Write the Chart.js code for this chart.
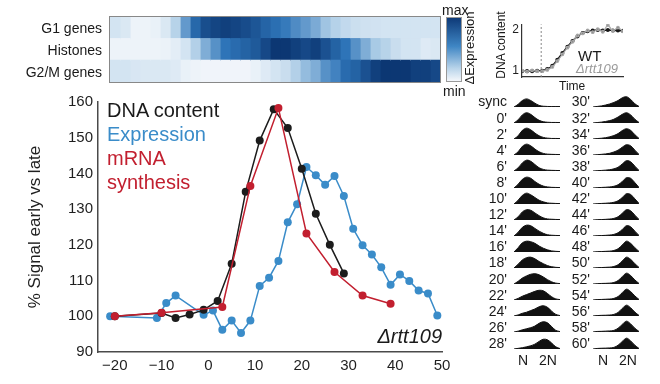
<!DOCTYPE html>
<html>
<head>
<meta charset="utf-8">
<script src="https://cdn.jsdelivr.net/npm/chart.js@4/dist/chart.umd.min.js"></script>
<style>
  html, body { margin: 0; padding: 0; background: #fff; }
  body { width: 660px; height: 384px; position: relative; overflow: hidden;
         font-family: "Liberation Sans", Arial, sans-serif; color: #1a1a1a; }
  canvas, .txt, .box { position: absolute; }
  .txt { white-space: nowrap; }
  .rowlab { font-size: 14px; line-height: 14px; text-align: right; width: 80px; }
  .histlab { font-size: 14px; line-height: 14px; text-align: right; width: 40px; }
</style>
</head>
<body>
<!-- heatmap -->
<canvas id="heatChart" width="330" height="65" style="left:110px;top:17px;"></canvas>
<div class="box" style="left:109px;top:16px;width:330px;height:65px;border:1px solid #888;"></div>
<div class="txt rowlab" style="left:22px;top:21px;">G1 genes</div>
<div class="txt rowlab" style="left:22px;top:43px;">Histones</div>
<div class="txt rowlab" style="left:22px;top:65px;">G2/M genes</div>
<div class="box" style="left:446px;top:17px;width:14px;height:63px;border:1px solid #999;background:linear-gradient(to bottom,#0e3a78,#3f86c4 45%,#b9d4ea 80%,#f4f7fb);"></div>
<div class="txt" style="left:442px;top:2px;font-size:14px;">max</div>
<div class="txt" style="left:443px;top:83px;font-size:14px;">min</div>
<div class="txt" style="left:469px;top:48px;font-size:13px;transform:translate(-50%,-50%) rotate(-90deg);">&Delta;Expression</div>

<!-- main chart -->
<canvas id="mainChart" width="460" height="296" style="left:0;top:88px;"></canvas>
<div class="txt" style="left:107px;top:98px;font-size:20px;line-height:24px;">
  <div style="color:#1a1a1a">DNA content</div>
  <div style="color:#3a8cc9">Expression</div>
  <div style="color:#c21f2f">mRNA</div>
  <div style="color:#c21f2f">synthesis</div>
</div>
<div class="txt" style="left:362px;top:325px;width:80px;text-align:right;font-size:20px;font-style:italic;">&Delta;rtt109</div>

<!-- inset -->
<canvas id="insetChart" width="130" height="80" style="left:500px;top:14px;"></canvas>
<div class="txt" style="left:501px;top:45px;font-size:12px;transform:translate(-50%,-50%) rotate(-90deg);">DNA content</div>
<div class="txt" style="left:559px;top:79px;font-size:12px;">Time</div>
<div class="txt" style="left:578px;top:47px;font-size:15px;">WT</div>
<div class="txt" style="left:576px;top:61px;font-size:13px;font-style:italic;color:#9a9a9a;">&Delta;rtt109</div>

<div id="hists"></div>
<div class="txt" style="left:518px;top:352px;font-size:14px;">N</div>
<div class="txt" style="left:539px;top:352px;font-size:14px;">2N</div>
<div class="txt" style="left:598px;top:352px;font-size:14px;">N</div>
<div class="txt" style="left:619px;top:352px;font-size:14px;">2N</div>

<script>
// ---- main panel: % signal early vs late ----
const xTickValues = [-20, -10, 0, 10, 20, 30, 40, 50];
const yTickValues = [90, 100, 110, 120, 130, 140, 150, 160];

const dnaTime   = [-20, -10, -7, -4, -1, 2, 5, 8, 11, 14, 17, 20, 23, 26, 29];
const dnaSignal = [100, 100.9, 99.5, 100.5, 101.8, 104.3, 114.7, 134.9, 149.2, 158, 152.7, 141.3, 128.7, 120, 112];

const exprTime   = [-21, -11, -9, -7, -1, 1, 3, 5, 7, 9, 11, 13, 15, 17, 19, 21, 23, 25, 27, 29, 31, 33, 35, 37, 39, 41, 43, 45, 47, 49];
const exprSignal = [100, 99.5, 103.7, 105.8, 100.4, 101.6, 96.2, 98.8, 95.3, 98.8, 108.5, 110.8, 115.5, 126.3, 131.4,
                    141.8, 139.5, 136.8, 139.3, 133.7, 124.5, 119.9, 117.3, 113.7, 108.8, 111.7, 109.9, 107.2, 106.4, 100.2];

const mrnaTime   = [-20, -10, 3, 9, 15, 21, 27, 33, 39];
const mrnaSignal = [100, 101, 102.6, 136.5, 158.3, 123.2, 112.4, 105.8, 103.5];

// ---- heatmap rows (relative expression, 0 = min, 1 = max) ----
const heatRows = ['G1 genes', 'Histones', 'G2/M genes'];
const g1Row = [0.15, 0.12, 0.03, 0.03, 0.05, 0.12, 0.28, 0.52, 0.72, 0.87, 0.92, 0.95, 0.92, 0.88, 0.82, 0.74, 0.68,
               0.63, 0.57, 0.52, 0.46, 0.37, 0.29, 0.23, 0.19, 0.17, 0.16, 0.15, 0.15, 0.15, 0.15, 0.15, 0.15];
const histoneRow = [0.03, 0.03, 0.03, 0.03, 0.03, 0.04, 0.08, 0.15, 0.3, 0.45, 0.55, 0.65, 0.7, 0.75, 0.8, 0.9, 1.0,
                    1.0, 0.95, 0.9, 0.95, 0.85, 0.75, 0.65, 0.55, 0.45, 0.35, 0.28, 0.2, 0.15, 0.15, 0.1, 0.12];
const g2mRow = [0.15, 0.15, 0.13, 0.12, 0.12, 0.12, 0.1, 0.05, 0.03, 0.02, 0.02, 0.02, 0.02, 0.02, 0.05, 0.1, 0.15,
                0.2, 0.3, 0.4, 0.45, 0.55, 0.6, 0.7, 0.75, 0.85, 0.95, 1.0, 1.0, 1.0, 0.95, 0.95, 0.9];

// ---- inset: DNA content over time ----
const insetTime   = [0, 5, 10, 15, 20, 25, 30, 35, 40, 45, 50, 55, 60, 65, 70, 75, 80, 85, 90, 95, 100];
const wtContent   = [1.0, 1.0, 1.0, 1.01, 1.01, 1.05, 1.13, 1.27, 1.43, 1.58, 1.72, 1.83, 1.91, 1.95, 1.97, 1.98, 1.97, 1.98, 1.97, 1.97, 1.96];
const rttContent  = [1.01, 0.99, 1.02, 1.0, 1.0, 1.03, 1.1, 1.24, 1.4, 1.56, 1.7, 1.85, 1.9, 1.97, 1.93, 2.0, 1.94, 2.1, 1.96, 2.04, 1.95];
const syncMark = 19;
const insetTicks = [1, 2];

// ---- FACS histograms ----
const histLabelsLeft  = ['sync', "0'", "2'", "4'", "6'", "8'", "10'", "12'", "14'", "16'", "18'", "20'", "22'", "24'", "26'", "28'"];
const histLabelsRight = ["30'", "32'", "34'", "36'", "38'", "40'", "42'", "44'", "46'", "48'", "50'", "52'", "54'", "56'", "58'", "60'"];
const histLeft = [
  [0, 0.25, 0.6, 0.75, 0.6, 0.35, 0.15, 0.07, 0.05, 0.04, 0.04, 0.04],
  [0, 0.3, 0.75, 0.95, 0.8, 0.5, 0.25, 0.12, 0.07, 0.05, 0.05, 0.04],
  [0, 0.3, 0.8, 1.0, 0.85, 0.55, 0.3, 0.15, 0.08, 0.05, 0.05, 0.04],
  [0, 0.3, 0.8, 1.0, 0.85, 0.55, 0.3, 0.15, 0.08, 0.06, 0.05, 0.04],
  [0, 0.3, 0.75, 1.0, 0.9, 0.6, 0.3, 0.15, 0.08, 0.06, 0.05, 0.04],
  [0, 0.35, 0.8, 1.0, 0.9, 0.6, 0.35, 0.18, 0.1, 0.06, 0.05, 0.04],
  [0, 0.35, 0.8, 1.0, 0.85, 0.6, 0.35, 0.2, 0.1, 0.07, 0.05, 0.04],
  [0, 0.3, 0.75, 0.95, 0.9, 0.65, 0.4, 0.2, 0.1, 0.07, 0.05, 0.04],
  [0, 0.35, 0.8, 1.0, 0.95, 0.7, 0.45, 0.25, 0.12, 0.07, 0.05, 0.04],
  [0, 0.4, 0.85, 1.0, 0.95, 0.8, 0.55, 0.35, 0.2, 0.1, 0.06, 0.04],
  [0, 0.35, 0.75, 0.95, 1.0, 0.85, 0.6, 0.4, 0.22, 0.12, 0.06, 0.04],
  [0, 0.25, 0.55, 0.75, 0.9, 0.95, 0.85, 0.65, 0.4, 0.2, 0.08, 0.04],
  [0, 0.15, 0.35, 0.5, 0.65, 0.8, 0.9, 0.85, 0.6, 0.3, 0.1, 0.04],
  [0, 0.1, 0.25, 0.35, 0.5, 0.65, 0.85, 0.95, 0.8, 0.45, 0.15, 0.04],
  [0, 0.08, 0.2, 0.3, 0.4, 0.55, 0.8, 0.95, 0.85, 0.5, 0.15, 0.04],
  [0, 0.06, 0.12, 0.2, 0.3, 0.45, 0.7, 0.9, 0.85, 0.55, 0.2, 0.04]
];
const histRight = [
  [0, 0.05, 0.1, 0.18, 0.28, 0.42, 0.6, 0.85, 0.95, 0.7, 0.3, 0.05],
  [0, 0.04, 0.08, 0.14, 0.22, 0.35, 0.55, 0.8, 0.95, 0.75, 0.35, 0.05],
  [0, 0.04, 0.07, 0.12, 0.2, 0.32, 0.5, 0.78, 0.95, 0.8, 0.4, 0.05],
  [0, 0.03, 0.06, 0.1, 0.16, 0.28, 0.45, 0.72, 0.95, 0.85, 0.45, 0.05],
  [0, 0.03, 0.05, 0.08, 0.12, 0.2, 0.35, 0.65, 0.95, 0.85, 0.45, 0.05],
  [0, 0.03, 0.05, 0.07, 0.1, 0.16, 0.3, 0.6, 0.95, 0.9, 0.5, 0.05],
  [0, 0.03, 0.05, 0.07, 0.1, 0.16, 0.3, 0.6, 0.95, 0.88, 0.48, 0.05],
  [0, 0.03, 0.04, 0.06, 0.09, 0.15, 0.3, 0.62, 0.95, 0.85, 0.45, 0.05],
  [0, 0.03, 0.04, 0.06, 0.09, 0.15, 0.3, 0.6, 0.95, 0.85, 0.45, 0.05],
  [0, 0.03, 0.04, 0.06, 0.08, 0.14, 0.3, 0.65, 1.0, 0.8, 0.4, 0.05],
  [0, 0.03, 0.04, 0.06, 0.08, 0.14, 0.3, 0.65, 1.0, 0.8, 0.4, 0.05],
  [0, 0.03, 0.05, 0.06, 0.08, 0.14, 0.32, 0.68, 1.0, 0.78, 0.38, 0.05],
  [0, 0.04, 0.05, 0.07, 0.09, 0.15, 0.32, 0.68, 1.0, 0.78, 0.38, 0.05],
  [0, 0.04, 0.06, 0.07, 0.09, 0.15, 0.33, 0.7, 1.0, 0.76, 0.36, 0.05],
  [0, 0.05, 0.06, 0.08, 0.1, 0.15, 0.35, 0.7, 1.0, 0.75, 0.35, 0.05],
  [0, 0.05, 0.07, 0.08, 0.1, 0.15, 0.35, 0.7, 1.0, 0.75, 0.35, 0.05]
];

Chart.defaults.animation = false;
Chart.defaults.responsive = false;
Chart.defaults.font.family = '"Liberation Sans", Arial, sans-serif';
Chart.defaults.plugins.legend.display = false;
Chart.defaults.plugins.tooltip.enabled = false;

const FONT_COLOR = '#1f1f1f';
const noGrid = { display: false, drawTicks: false };

function toPoints(xs, ys) {
  return xs.map((x, i) => ({ x: x, y: ys[i] }));
}

function lineSeries(xs, ys, color, order) {
  return {
    data: toPoints(xs, ys),
    showLine: true,
    borderColor: color,
    backgroundColor: color,
    borderWidth: 1.5,
    pointRadius: 4,
    pointBorderWidth: 0,
    order: order
  };
}

// main chart
new Chart(document.getElementById('mainChart'), {
  type: 'scatter',
  data: {
    datasets: [
      lineSeries(mrnaTime, mrnaSignal, '#c21f2f', 0),
      lineSeries(dnaTime, dnaSignal, '#1c1c1c', 1),
      lineSeries(exprTime, exprSignal, '#3a8cc9', 2)
    ]
  },
  options: {
    layout: { padding: { top: 12, right: 18, left: 0, bottom: 0 } },
    scales: {
      x: {
        type: 'linear', min: -23.6, max: 50,
        grid: noGrid,
        border: { color: '#4a4a4a', width: 1.5 },
        ticks: {
          color: FONT_COLOR, font: { size: 15 }, padding: 5,
          callback: v => v < 0 ? '\u2212' + Math.abs(v) : String(v)
        },
        afterBuildTicks: s => { s.ticks = xTickValues.map(v => ({ value: v })); },
        afterFit: s => { s.height = 32; }
      },
      y: {
        min: 90, max: 160,
        grid: noGrid,
        border: { color: '#4a4a4a', width: 1.5 },
        ticks: { color: FONT_COLOR, font: { size: 15 }, padding: 5 },
        afterBuildTicks: s => { s.ticks = yTickValues.map(v => ({ value: v })); },
        afterFit: s => { s.width = 98; },
        title: {
          display: true, text: '% Signal early vs late',
          color: FONT_COLOR, font: { size: 17 }, padding: { top: 25, bottom: 0 }
        }
      }
    }
  }
});

// heatmap as a stacked horizontal bar chart, one segment per time column
function heatColor(v) {
  const stops = [[0, [244, 247, 251]], [0.35, [168, 202, 229]], [0.65, [46, 116, 184]], [1, [12, 55, 115]]];
  for (let i = 1; i < stops.length; i++) {
    if (v <= stops[i][0]) {
      const a = stops[i - 1], b = stops[i];
      const t = (v - a[0]) / (b[0] - a[0]);
      const c = a[1].map((ch, k) => Math.round(ch + (b[1][k] - ch) * t));
      return 'rgb(' + c.join(',') + ')';
    }
  }
  return 'rgb(12,55,115)';
}

const heatDatasets = g1Row.map((_, i) => ({
  data: [1, 1, 1],
  backgroundColor: [heatColor(g1Row[i]), heatColor(histoneRow[i]), heatColor(g2mRow[i])],
  borderWidth: 0,
  barPercentage: 1,
  categoryPercentage: 1,
  inflateAmount: 0.6
}));

new Chart(document.getElementById('heatChart'), {
  type: 'bar',
  data: { labels: heatRows, datasets: heatDatasets },
  options: {
    indexAxis: 'y',
    layout: { padding: 0 },
    scales: {
      x: { stacked: true, display: false, min: 0, max: g1Row.length },
      y: { stacked: true, display: false }
    }
  }
});

// inset
new Chart(document.getElementById('insetChart'), {
  type: 'scatter',
  data: {
    datasets: [
      {
        data: [{ x: syncMark, y: 0.86 }, { x: syncMark, y: 2.12 }],
        showLine: true, borderColor: '#888', borderWidth: 1, borderDash: [2, 2], pointRadius: 0
      },
      {
        data: toPoints(insetTime, rttContent),
        showLine: true, borderColor: '#a8a8a8', backgroundColor: '#8a8a8a',
        borderWidth: 1.2, pointRadius: 1.3, tension: 0.3
      },
      {
        data: toPoints(insetTime, wtContent),
        showLine: true, borderColor: '#1a1a1a', backgroundColor: '#1a1a1a',
        borderWidth: 1.5, pointRadius: 1.3, tension: 0.3
      }
    ]
  },
  options: {
    layout: { padding: { top: 8, right: 7, left: 0, bottom: 0 } },
    scales: {
      x: {
        type: 'linear', min: 0, max: 100,
        grid: noGrid,
        border: { color: '#333', width: 1.2 },
        ticks: { display: false },
        afterFit: s => { s.height = 17; }
      },
      y: {
        min: 0.86, max: 2.12,
        grid: noGrid,
        border: { color: '#333', width: 1.2 },
        ticks: { color: FONT_COLOR, font: { size: 12 }, padding: 3 },
        afterBuildTicks: s => { s.ticks = insetTicks.map(v => ({ value: v })); },
        afterFit: s => { s.width = 22; }
      }
    }
  }
});

// FACS histograms
const histHost = document.getElementById('hists');
const histBins = histLeft[0].map((_, i) => i);

function addHistogram(values, label, left, labelRight, baseline) {
  const lab = document.createElement('div');
  lab.className = 'txt histlab';
  lab.textContent = label;
  lab.style.left = (labelRight - 40) + 'px';
  lab.style.top = (baseline - 11.6) + 'px';
  histHost.appendChild(lab);

  const cv = document.createElement('canvas');
  cv.width = 46;
  cv.height = 13;
  cv.style.left = left + 'px';
  cv.style.top = (baseline - 12) + 'px';
  histHost.appendChild(cv);

  new Chart(cv, {
    type: 'line',
    data: {
      labels: histBins,
      datasets: [{
        data: values,
        fill: 'origin',
        backgroundColor: '#111',
        borderColor: '#111',
        borderWidth: 1,
        pointRadius: 0,
        tension: 0.35
      }]
    },
    options: {
      layout: { padding: 0 },
      clip: false,
      scales: {
        x: { display: false },
        y: { display: false, min: 0, max: 1.2 }
      }
    }
  });
}

histLeft.forEach((vals, i) => {
  addHistogram(vals, histLabelsLeft[i], 514, 507, 106 + 16.1 * i);
});
histRight.forEach((vals, i) => {
  addHistogram(vals, histLabelsRight[i], 593, 590, 106 + 16.1 * i);
});
</script>
</body>
</html>
